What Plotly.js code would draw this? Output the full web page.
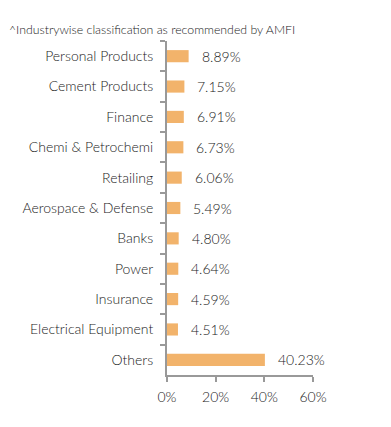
<!DOCTYPE html>
<html>
<head>
<meta charset="utf-8">
<script src="https://cdn.plot.ly/plotly-3.0.1.min.js"></script>
<style>html,body{margin:0;padding:0;background:#fff;}#chart{width:391px;height:427px;}</style>
</head>
<body>
<div id="chart"></div>
<script>
const categories = ["Personal Products","Cement Products","Finance","Chemi & Petrochemi","Retailing","Aerospace & Defense","Banks","Power","Insurance","Electrical Equipment","Others"];
const values = [8.89,7.15,6.91,6.73,6.06,5.49,4.80,4.64,4.59,4.51,40.23];
const labels = ["8.89%","7.15%","6.91%","6.73%","6.06%","5.49%","4.80%","4.64%","4.59%","4.51%","40.23%"];
const xTicks = [0,20,40,60];
const xTickText = ["0%","20%","40%","60%"];
const titleText = "^Industrywise classification as recommended by AMFI";

const fontFam = "Lato, 'Open Sans', sans-serif";
const trace = {
  type: "bar",
  orientation: "h",
  x: values,
  y: categories,
  width: 0.4,
  marker: {color: "#F2B36B"},
  hoverinfo: "none"
};
const annotations = categories.map((c, i) => ({
  x: values[i], y: c, xref: "x", yref: "y",
  text: labels[i], showarrow: false, xanchor: "left", xshift: 11,
  font: {family: fontFam, size: 14, color: "#1a1a1a", weight: 300}
}));
const layout = {
  width: 391, height: 427,
  margin: {l: 167, r: 78, t: 41, b: 52},
  paper_bgcolor: "#fff", plot_bgcolor: "#fff",
  showlegend: false,
  title: {text: titleText, x: 0.023, xanchor: "left", y: 0.93, yanchor: "middle",
          font: {family: fontFam, size: 12.3, color: "#222", weight: 300}},
  xaxis: {range: [0, 60], tickvals: xTicks, ticktext: xTickText, showgrid: false, zeroline: false,
          showline: true, linecolor: "#999", linewidth: 2, ticks: "outside", ticklen: 5, tickcolor: "#999", tickwidth: 2,
          ticklabelstandoff: 3,
          tickfont: {family: fontFam, size: 14, color: "#1a1a1a", weight: 300}, fixedrange: true},
  yaxis: {type: "category", autorange: "reversed", showgrid: false, zeroline: false,
          showline: true, linecolor: "#999", linewidth: 2, ticks: "outside", tickson: "boundaries", ticklen: 5, tickcolor: "#999", tickwidth: 2,
          tickfont: {family: fontFam, size: 14, color: "#1a1a1a", weight: 300}, ticklabelstandoff: 9, fixedrange: true},
  annotations: annotations
};
Plotly.newPlot("chart", [trace], layout, {displayModeBar: false, staticPlot: true});
</script>
</body>
</html>
